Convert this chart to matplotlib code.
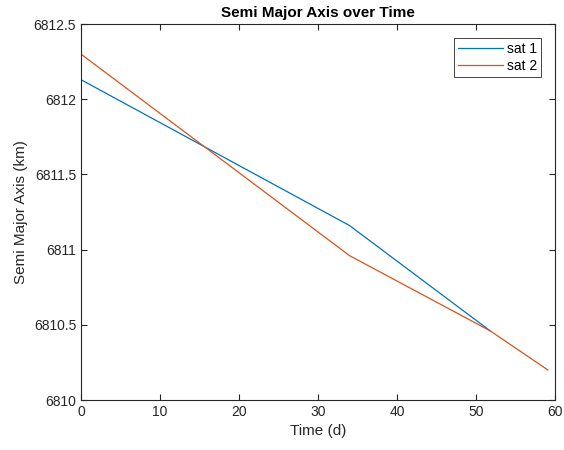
import matplotlib
matplotlib.use("Agg")
import matplotlib.pyplot as plt
from matplotlib.ticker import FuncFormatter

# data
t_sat1 = [0, 34.0, 51.8]
a_sat1 = [6812.13, 6811.16, 6810.46]
t_sat2 = [0, 34.0, 51.8, 59.1]
a_sat2 = [6812.30, 6810.96, 6810.46, 6810.20]
labels = ["sat 1", "sat 2"]

plt.rcParams['font.family'] = ['Liberation Sans', 'DejaVu Sans']

fig = plt.figure(figsize=(5.64, 4.5), dpi=100)
ax = fig.add_axes([0.1436, 0.111, 0.8404, 0.8356])

ax.plot(t_sat1, a_sat1, color='#0072BD', lw=0.9, label=labels[0])
ax.plot(t_sat2, a_sat2, color='#D95319', lw=0.9, label=labels[1])

ax.set_xlim(0, 60)
ax.set_ylim(6810, 6812.5)
ax.set_xticks(range(0, 61, 10))
ax.set_yticks([6810, 6810.5, 6811, 6811.5, 6812, 6812.5])
ax.yaxis.set_major_formatter(FuncFormatter(lambda v, p: f"{v:g}"))

for s in ax.spines.values():
    s.set_color('#262626')
    s.set_linewidth(0.8)
ax.tick_params(direction='in', top=True, right=True, length=4, width=0.8,
               colors='#262626', labelsize=10, labelcolor='#262626')

ax.set_xlabel('Time (d)', fontsize=11, color='#262626')
ax.set_ylabel('Semi Major Axis (km)', fontsize=11, color='#262626')
ax.set_title('Semi Major Axis over Time', fontsize=11, fontweight='bold', pad=5)

leg = ax.legend(loc='upper right', fontsize=10, handlelength=3.2, fancybox=False,
                framealpha=1, edgecolor='#262626', borderaxespad=1.0,
                handletextpad=0.3, labelspacing=0.2, borderpad=0.3)
leg.get_frame().set_linewidth(0.6)

fig.savefig('out.png', dpi=100)
